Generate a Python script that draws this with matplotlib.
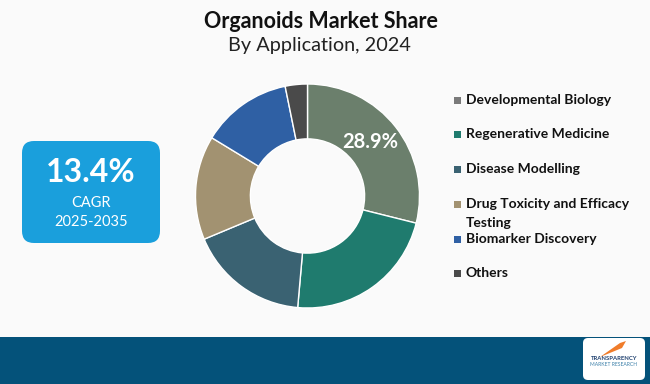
import matplotlib
matplotlib.use("Agg")
import matplotlib.pyplot as plt
from matplotlib.patches import FancyBboxPatch, Rectangle, Polygon

categories = ["Developmental Biology", "Regenerative Medicine", "Disease Modelling",
              "Drug Toxicity and Efficacy\nTesting", "Biomarker Discovery", "Others"]
shares = [28.9, 22.5, 17.3, 15.0, 13.1, 3.2]
colors = ["#6b7f6c", "#1f7b6e", "#3a6272", "#a29271", "#2f60a4", "#4a4a4a"]
legend_colors = ["#7a7a7a", "#1f7b6e", "#3a6272", "#a29271", "#2f60a4", "#4a4a4a"]
title = "Organoids Market Share"
subtitle = "By Application, 2024"
cagr_value = "13.4%"
cagr_label = "CAGR"
cagr_period = "2025-2035"

W, H = 650, 384
fig = plt.figure(figsize=(W / 100, H / 100), dpi=100)
fig.patch.set_facecolor("#fafafa")

# overlay axes in pixel coordinates
ov = fig.add_axes([0, 0, 1, 1])
ov.set_xlim(0, W)
ov.set_ylim(H, 0)
ov.axis("off")

# donut
cx, cy, r = 307.5, 196, 112
pax = fig.add_axes([(cx - r) / W, 1 - (cy + r) / H, 2 * r / W, 2 * r / H])
wedges, _ = pax.pie(shares, colors=colors, startangle=90, counterclock=False,
                    radius=1.0, wedgeprops=dict(width=0.49, edgecolor="white", linewidth=1.0))
pax.set_xlim(-1, 1)
pax.set_ylim(-1, 1)
pax.axis("off")
pax.text(0.56, 0.48, f"{shares[0]}%", color="white", fontsize=14.5, fontweight="bold",
         ha="center", va="center", family="Lato")

# title
ov.text(321, 21, title, ha="center", va="center", fontsize=15.5, fontweight="bold",
        family="Lato", color="#111111")
ov.text(319, 46, subtitle, ha="center", va="center", fontsize=14.3, family="Lato",
        color="#222222")

# CAGR box
box = FancyBboxPatch((22, 141), 138, 102, boxstyle="round,pad=0,rounding_size=12",
                     facecolor="#1a9fdc", edgecolor="none")
ov.add_patch(box)
ov.text(91, 172, cagr_value, ha="center", va="center", fontsize=23, fontweight="bold",
        color="white", family="Lato")
ov.text(91, 203, cagr_label, ha="center", va="center", fontsize=10.5, color="white", family="Lato")
ov.text(91, 222, cagr_period, ha="center", va="center", fontsize=10.5, color="white", family="Lato")

# legend
ys = [100, 134, 169, 204, 239, 273]
for lab, col, y in zip(categories, legend_colors, ys):
    ov.add_patch(Rectangle((454, y - 3.5), 7, 7, facecolor=col, edgecolor="none"))
    lines = lab.split("\n")
    for i, line in enumerate(lines):
        ov.text(466, y + i * 19, line, ha="left", va="center",
                fontsize=10, fontweight="bold", family="Lato", color="#111111")

# footer
ov.add_patch(Rectangle((0, 337), W, 47, facecolor="#04527a", edgecolor="none"))
logo = FancyBboxPatch((583, 338), 62, 42, boxstyle="round,pad=0,rounding_size=5",
                      facecolor="white", edgecolor="none")
ov.add_patch(logo)
ov.add_patch(Polygon([[600, 357], [620, 343], [626, 341], [622, 348]], closed=True,
                     facecolor="#f07c2a", edgecolor="none"))
ov.text(614, 358, "TRANSPARENCY", ha="center", va="center", fontsize=4.2, fontweight="bold",
        color="#1d3f6e", family="Lato")
ov.text(614, 365, "MARKET RESEARCH", ha="center", va="center", fontsize=3.6,
        color="#3a7fa8", family="Lato")

fig.savefig("out.png", dpi=100, facecolor=fig.get_facecolor())
